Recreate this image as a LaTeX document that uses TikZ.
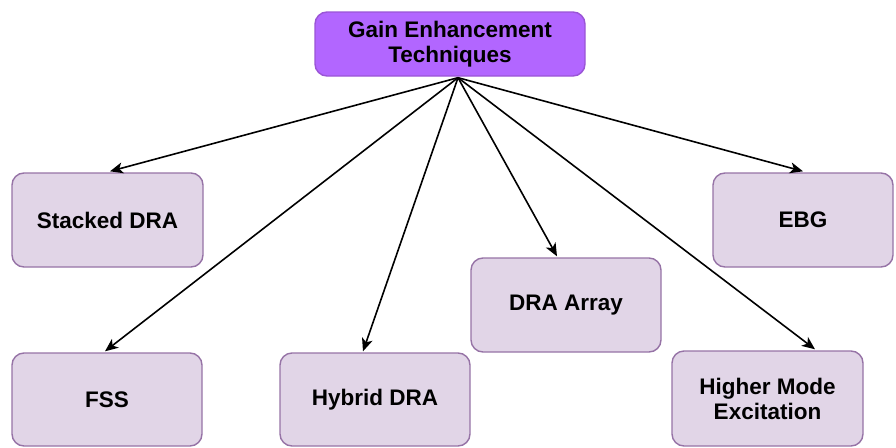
\documentclass[tikz,border=0pt]{standalone}
\usepackage{fontspec}
\setmainfont{Liberation Sans}
\usetikzlibrary{arrows.meta,calc}
\definecolor{topfill}{HTML}{B266FF}
\definecolor{topdraw}{HTML}{9A55D6}
\definecolor{boxfill}{HTML}{E1D5E7}
\definecolor{boxdraw}{HTML}{9673A6}
\tikzset{
  box/.style={draw=boxdraw, fill=boxfill, line width=1.4pt, rounded corners=12pt, inner sep=0pt,
    align=center, font=\fontsize{22.5}{25}\selectfont\bfseries, text=black},
  topbox/.style={box, draw=topdraw, fill=topfill},
  link/.style={draw=black, line width=1.6pt, -{Stealth[length=13pt,width=11pt,inset=3.5pt]}}
}
\begin{document}
\begin{tikzpicture}[x=1pt,y=-1pt]
\useasboundingbox (0,0) rectangle (896,447);
\node[topbox, minimum width=270pt, minimum height=64pt] (top) at (450,44) {Gain Enhancement\\Techniques};
\node[box, minimum width=191pt, minimum height=94pt] (sd) at (107.5,220) {Stacked DRA};
\node[box, minimum width=190pt, minimum height=93pt] (fss) at (107,399.5) {FSS};
\node[box, minimum width=190pt, minimum height=93pt] (hd) at (375,399.5) {Hybrid DRA};
\node[box, minimum width=190pt, minimum height=94pt] (da) at (566,305) {DRA Array};
\node[box, minimum width=180pt, minimum height=94pt] (ebg) at (803,220) {EBG};
\node[box, minimum width=191pt, minimum height=95pt] (hm) at (767.5,398.5) {Higher Mode\\Excitation};
\coordinate (apex) at ($(top.south)+(8,1)$);
\coordinate (tsd) at ($(sd.north)+(2.5,-1)$);
\coordinate (tfss) at ($(fss.north)+(-2,-1)$);
\coordinate (thd) at ($(hd.north)+(-12,-1)$);
\coordinate (tda) at ($(da.north)+(-9,-1)$);
\coordinate (tebg) at ($(ebg.north)+(0,-1)$);
\coordinate (thm) at ($(hm.north)+(47.5,-1)$);
\foreach \t in {tsd,tfss,thd,tda,tebg,thm} \draw[link] (apex) -- (\t);
\end{tikzpicture}
\end{document}
